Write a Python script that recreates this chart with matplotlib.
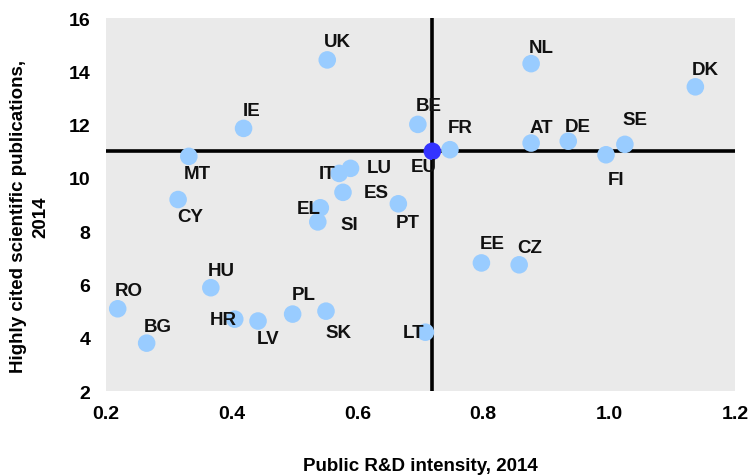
import matplotlib
matplotlib.use("Agg")
import matplotlib.pyplot as plt

plt.rcParams['font.family'] = ['Liberation Sans', 'DejaVu Sans']

countries = ["UK", "IE", "BE", "MT", "CY", "IT", "LU", "ES", "PT", "EL", "SI",
             "FR", "NL", "DK", "AT", "DE", "FI", "SE",
             "RO", "BG", "HU", "HR", "LV", "PL", "SK", "LT", "EE", "CZ"]
rd_intensity = [0.552, 0.419, 0.696, 0.332, 0.315, 0.571, 0.589, 0.577, 0.665, 0.541, 0.537,
                0.747, 0.876, 1.137, 0.876, 0.935, 0.995, 1.025,
                0.219, 0.265, 0.367, 0.405, 0.442, 0.497, 0.550, 0.708, 0.797, 0.857]
publications = [14.43, 11.86, 12.01, 10.81, 9.19, 10.17, 10.36, 9.46, 9.03, 8.88, 8.35,
                11.06, 14.29, 13.42, 11.31, 11.38, 10.87, 11.26,
                5.09, 3.80, 5.88, 4.70, 4.63, 4.89, 5.00, 4.21, 6.81, 6.74]
eu_label = "EU"
eu_x = 0.719
eu_y = 11.0

# label offsets in pixels (dx, dy with y up)
offsets = {"UK": (10, 18), "IE": (8, 18), "BE": (11, 19), "MT": (9, -17), "CY": (12, -17),
           "IT": (-12, 0), "LU": (29, 1), "ES": (33, 0), "PT": (9, -19), "EL": (-12, -1),
           "SI": (32, -3), "FR": (10, 22), "NL": (10, 16), "DK": (10, 17), "AT": (10, 16),
           "DE": (10, 15), "FI": (10, -25), "SE": (10, 25), "RO": (11, 18), "BG": (11, 17),
           "HU": (10, 17), "HR": (-11, 0), "LV": (10, -17), "PL": (11, 20), "SK": (12, -21),
           "LT": (-12, 0), "EE": (11, 19), "CZ": (11, 17)}

fig = plt.figure(figsize=(7.5, 4.77), dpi=100)
ax = fig.add_axes([0.141, 0.178, 0.839, 0.782])
ax.set_facecolor('#EAEAEA')
for s in ax.spines.values():
    s.set_visible(False)

ax.axhline(eu_y, color='black', lw=2.6, zorder=2)
ax.axvline(eu_x, color='black', lw=2.6, zorder=2)

ax.scatter(rd_intensity, publications, s=160, color='#99CCFF', edgecolors='none', zorder=3)
ax.scatter([eu_x], [eu_y], s=160, color='#3333FF', edgecolors='none', zorder=4)

lab_kw = dict(textcoords='offset pixels', ha='center', va='center', fontsize=13.5,
              fontweight='bold', color='#111111', zorder=5)
for c, x, y in zip(countries, rd_intensity, publications):
    dx, dy = offsets[c]
    ax.annotate(c, (x, y), xytext=(dx, dy), **lab_kw)
ax.annotate(eu_label, (eu_x, eu_y), xytext=(-9, -15), **lab_kw)

ax.set_xlim(0.2, 1.2)
ax.set_ylim(2, 16)
ax.set_xticks([0.2, 0.4, 0.6, 0.8, 1.0, 1.2])
ax.set_xticklabels(["0.2", "0.4", "0.6", "0.8", "1.0", "1.2"])
ax.set_yticks([2, 4, 6, 8, 10, 12, 14, 16])
ax.tick_params(axis='x', length=0, pad=10, labelsize=14)
ax.tick_params(axis='y', length=0, pad=11, labelsize=14)
for lbl in ax.get_xticklabels() + ax.get_yticklabels():
    lbl.set_fontweight('bold')

ax.set_xlabel("Public R&D intensity, 2014", fontsize=13.5, fontweight='bold', labelpad=25)
ax.set_ylabel("Highly cited scientific publications,\n2014", fontsize=13.5, fontweight='bold',
              linespacing=1.45)
ax.yaxis.set_label_coords(-0.089, 0.47)

fig.savefig("out.png", dpi=100)
